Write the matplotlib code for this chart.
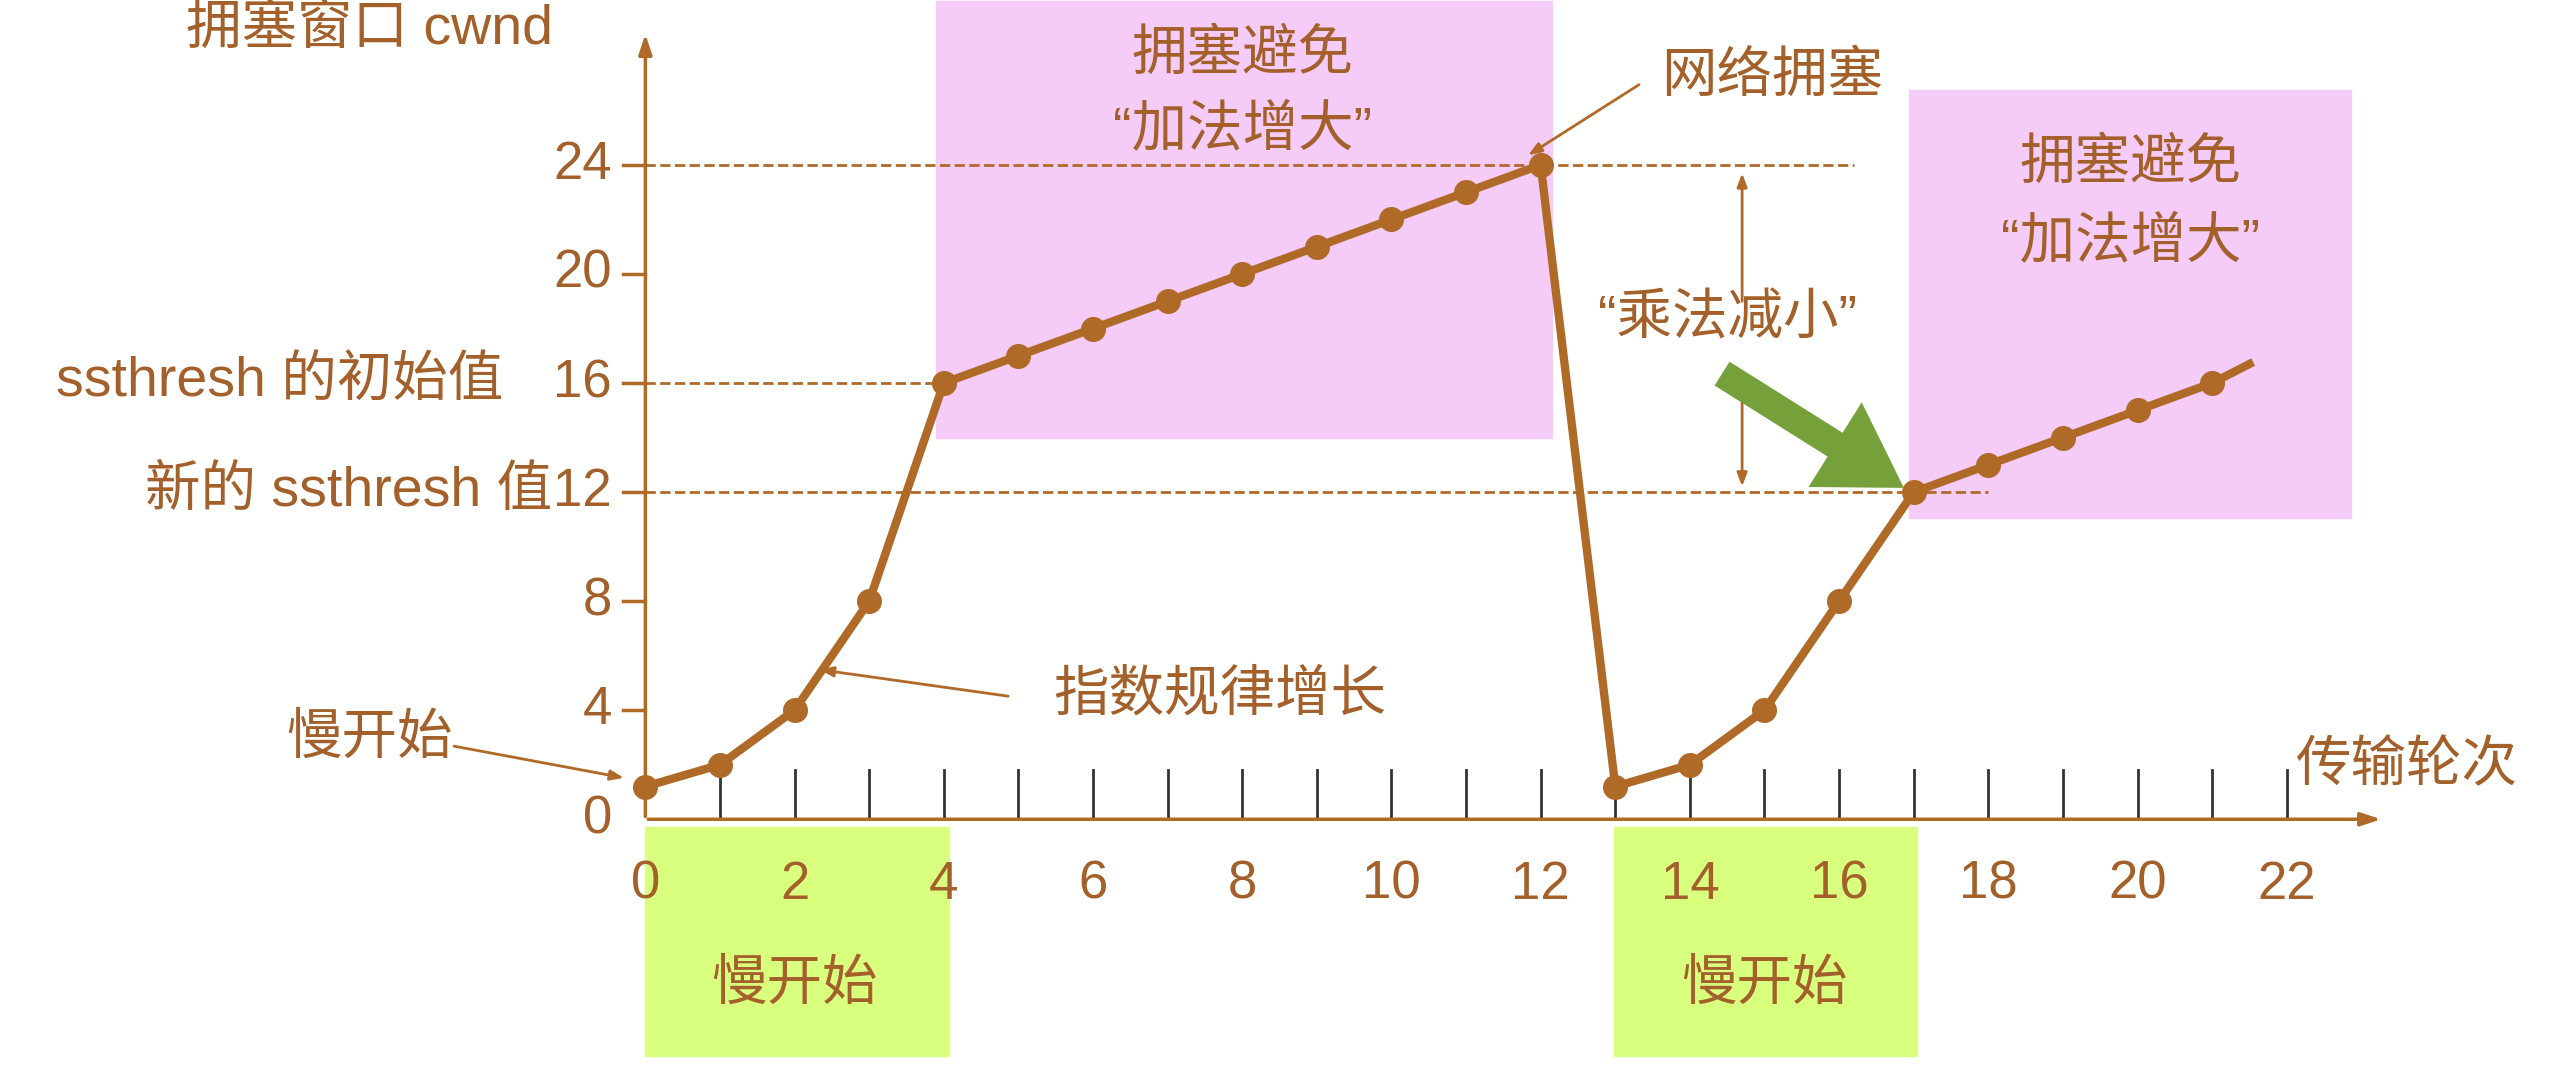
import matplotlib
matplotlib.use("Agg")
import matplotlib.pyplot as plt
from matplotlib.patches import Rectangle

plt.rcParams['font.family'] = ['Liberation Sans', 'Noto Sans CJK SC', 'DejaVu Sans']

rounds1 = [0,1,2,3,4,5,6,7,8,9,10,11,12]
cwnd1 = [1.2,2,4,8,16,17,18,19,20,21,22,23,24]
rounds2 = [13,14,15,16,17,18,19,20,21]
cwnd2 = [1.2,2,4,8,12,13,14,15,16]
xticks = [0,2,4,6,8,10,12,14,16,18,20,22]
yticks = [0,4,8,12,16,20,24]

C = '#B06A28'
T = '#A3602A'
fig = plt.figure(figsize=(25.74,10.66), dpi=100)
ax = fig.add_axes([0,0,1,1])
ax.set_xlim(-8.65, 25.85); ax.set_ylim(-9.05, 30.05); ax.axis('off')

ax.add_patch(Rectangle((3.9,14.0),8.25,16.0,color='#F5CBF8',zorder=0))
ax.add_patch(Rectangle((16.94,11.06),5.92,15.7,color='#F5CBF8',zorder=0))
ax.add_patch(Rectangle((0,-8.7),4.07,8.4,color='#D9FF7F',zorder=0))
ax.add_patch(Rectangle((12.98,-8.7),4.07,8.4,color='#D9FF7F',zorder=0))

ax.plot([0,16.2],[24,24],'--',color=C,lw=2)
ax.plot([0,4],[16,16],'--',color=C,lw=2)
ax.plot([0,18],[12,12],'--',color=C,lw=2)

ax.annotate('',xy=(23.3,0),xytext=(0,0),arrowprops=dict(arrowstyle='-|>,head_length=1.2,head_width=0.4',color=C,lw=2.5))
ax.annotate('',xy=(0,28.9),xytext=(0,0),arrowprops=dict(arrowstyle='-|>,head_length=1.2,head_width=0.4',color=C,lw=2.5))
for x in range(1,23):
    ax.plot([x,x],[0,1.8],color='#333333',lw=2)
for y in yticks[1:]:
    ax.plot([-0.3,0],[y,y],color=C,lw=2.5)
for x in xticks:
    ax.text(x,-2.4,str(x),ha='center',va='center',fontsize=38,color=T)
for y in yticks:
    ax.text(-0.45,y,str(y),ha='right',va='center',fontsize=38,color=T)

ax.plot(rounds1,cwnd1,'-o',color=C,lw=6,ms=17,zorder=5)
ax.plot(rounds2+[21.5],cwnd2+[16.7],'-',color=C,lw=6,zorder=5)
ax.plot(rounds2,cwnd2,'o',color=C,ms=17,zorder=5)
ax.plot([12,13],[24,1.2],'-',color=C,lw=6,zorder=5)

fs=40
ap = dict(arrowstyle='-|>,head_length=0.8,head_width=0.3',color=C,lw=2)
ax.text(-3.7,28.95,'拥塞窗口 cwnd',fontsize=fs,color=T,ha='center',va='center')
ax.text(-1.9,16,'ssthresh 的初始值',fontsize=fs,color=T,ha='right',va='center')
ax.text(-1.25,12,'新的 ssthresh 值',fontsize=fs,color=T,ha='right',va='center')
ax.text(-3.7,2.9,'慢开始',fontsize=fs,color=T,ha='center',va='center')
ax.annotate('',xy=(-0.25,1.5),xytext=(-2.6,2.7),arrowprops=ap)
ax.text(7.7,4.5,'指数规律增长',fontsize=fs,color=T,ha='center',va='center')
ax.annotate('',xy=(2.3,5.5),xytext=(4.9,4.5),arrowprops=ap)
ax.text(15.1,27.2,'网络拥塞',fontsize=fs,color=T,ha='center',va='center')
ax.annotate('',xy=(11.8,24.3),xytext=(13.35,27.0),arrowprops=ap)
ax.text(14.5,18.3,'“乘法减小”',fontsize=fs,color=T,ha='center',va='center')
ax.annotate('',xy=(14.7,23.8),xytext=(14.7,18.9),arrowprops=ap)
ax.annotate('',xy=(14.7,12.1),xytext=(14.7,16.3),arrowprops=ap)
ax.annotate('',xy=(16.9,12.1),xytext=(14.4,16.4),
            arrowprops=dict(arrowstyle='simple,head_length=1.3,head_width=1.6,tail_width=0.45',
                            color='#76A03A',lw=0,mutation_scale=45),zorder=6)
ax.text(8.0,28.0,'拥塞避免',fontsize=fs,color=T,ha='center',va='center')
ax.text(8.0,25.2,'“加法增大”',fontsize=fs,color=T,ha='center',va='center')
ax.text(19.9,24.0,'拥塞避免',fontsize=fs,color=T,ha='center',va='center')
ax.text(19.9,21.1,'“加法增大”',fontsize=fs,color=T,ha='center',va='center')
ax.text(23.6,1.9,'传输轮次',fontsize=fs,color=T,ha='center',va='center')
ax.text(2.0,-6.1,'慢开始',fontsize=fs,color=T,ha='center',va='center')
ax.text(15.0,-6.1,'慢开始',fontsize=fs,color=T,ha='center',va='center')

fig.savefig('out.png',dpi=100)
